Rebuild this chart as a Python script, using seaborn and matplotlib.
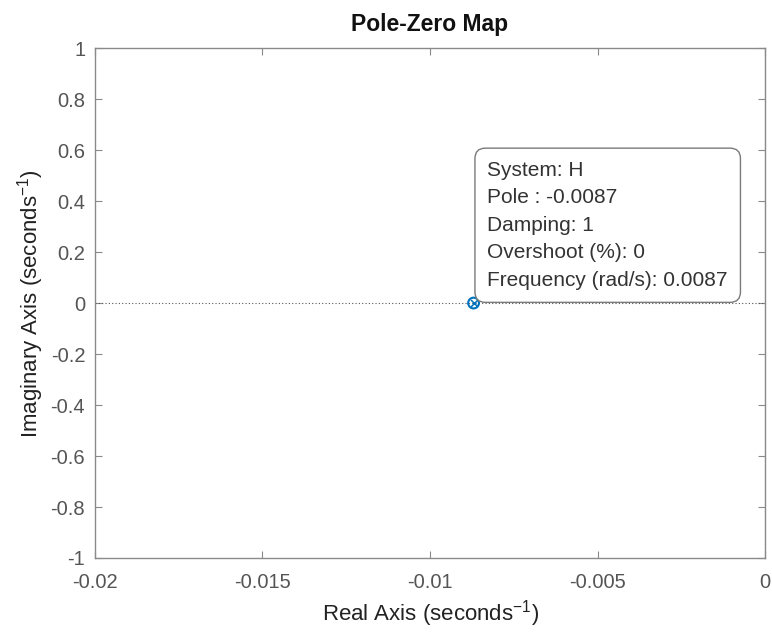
import numpy as np
import pandas as pd
import seaborn as sns
import matplotlib
matplotlib.use("Agg")
import matplotlib.pyplot as plt

# Data
pole_real = [-0.0087]
pole_imag = [0.0]
tip_lines = ["System: H", "Pole : -0.0087", "Damping: 1", "Overshoot (%): 0", "Frequency (rad/s): 0.0087"]
x_ticks = [-0.02, -0.015, -0.01, -0.005, 0]
x_tick_labels = ["-0.02", "-0.015", "-0.01", "-0.005", "0"]
y_ticks = [-1, -0.8, -0.6, -0.4, -0.2, 0, 0.2, 0.4, 0.6, 0.8, 1]
y_tick_labels = ["-1", "-0.8", "-0.6", "-0.4", "-0.2", "0", "0.2", "0.4", "0.6", "0.8", "1"]

sns.set_theme(style="white")
plt.rcParams['font.family'] = ['Liberation Sans', 'DejaVu Sans']
plt.rcParams['mathtext.fontset'] = 'custom'
plt.rcParams['mathtext.rm'] = 'Liberation Sans'

fig = plt.figure(figsize=(7.72, 6.33), dpi=100)
ax = fig.add_axes([0.123, 0.1185, 0.868, 0.8055])

df = pd.DataFrame({"re": pole_real, "im": pole_imag})

ax.axhline(0, color="#555555", linestyle=(0, (1, 2)), linewidth=0.8, zorder=1)
ax.axvline(0, color="#555555", linestyle=(0, (1, 2)), linewidth=0.8, zorder=1)

sns.scatterplot(data=df, x="re", y="im", ax=ax, marker="o", s=60,
                facecolor="none", edgecolor="#0072BD", linewidth=1.5, zorder=3)
sns.scatterplot(data=df, x="re", y="im", ax=ax, marker="x", s=25,
                color="#0072BD", linewidth=1.1, zorder=4)

ax.set_xlim(-0.02, 0)
ax.set_ylim(-1, 1)
ax.set_xticks(x_ticks)
ax.set_xticklabels(x_tick_labels)
ax.set_yticks(y_ticks)
ax.set_yticklabels(y_tick_labels)

for s in ax.spines.values():
    s.set_color("#8a8a8a")
    s.set_linewidth(1.0)
ax.tick_params(axis="both", which="both", direction="in", length=5, width=0.8,
               color="#8a8a8a", labelcolor="#555555", labelsize=14.5,
               top=True, right=True, bottom=True, left=True)
ax.tick_params(axis="x", pad=11)
ax.tick_params(axis="y", pad=7)

ax.set_title("Pole-Zero Map", fontsize=16.5, fontweight="bold", color="#111111", pad=12)
ax.set_xlabel("Real Axis (seconds$^{-1}$)", fontsize=16, color="#222222", labelpad=4)
ax.set_ylabel("Imaginary Axis (seconds$^{-1}$)", fontsize=16, color="#222222", labelpad=3)

ax.annotate("\n".join(tip_lines), xy=(pole_real[0], pole_imag[0]),
            xytext=(10, 9.5), textcoords="offset points", ha="left", va="bottom",
            fontsize=15, color="#333333", linespacing=1.57,
            bbox=dict(boxstyle="round,pad=0.6,rounding_size=0.5", facecolor="white",
                      edgecolor="#7a7a7a", linewidth=1.0), zorder=5)

fig.savefig("out.png", dpi=100)
